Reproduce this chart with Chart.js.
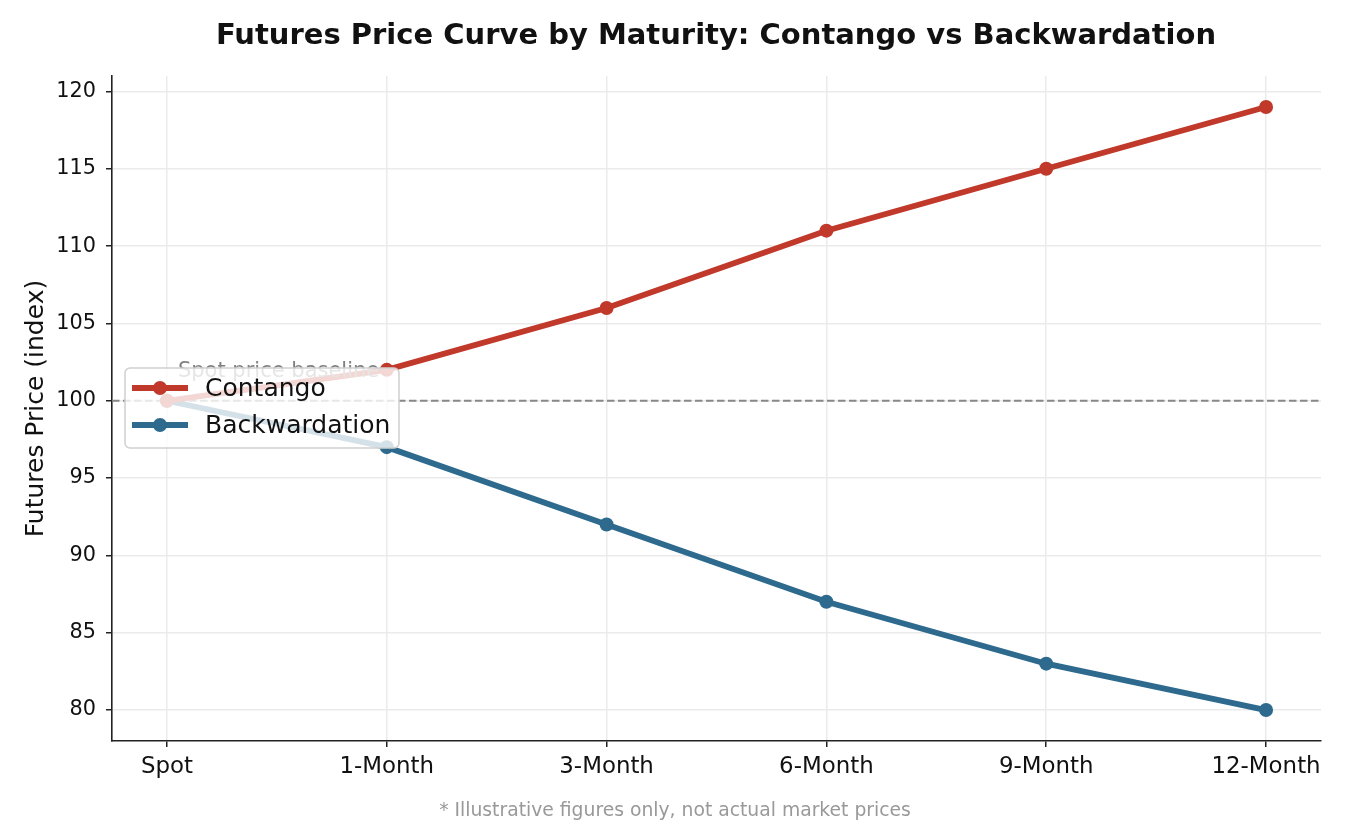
<!DOCTYPE html>
<html lang="en">
  <head>
    <meta charset="UTF-8" />
    <title>Futures Price Curve</title>
    <script src="https://cdn.jsdelivr.net/npm/chart.js"></script>
    <style>
      html, body { margin: 0; padding: 0; background: #fff; }
      #wrap { width: 1350px; height: 825px; }
    </style>
  </head>
  <body>
    <div id="wrap"><canvas id="curveChart" width="1350" height="825"></canvas></div>
    <script>
      // data
      const maturities = ["Spot", "1-Month", "3-Month", "6-Month", "9-Month", "12-Month"];
      const contango = [100, 102, 106, 111, 115, 119];
      const backwardation = [100, 97, 92, 87, 83, 80];
      const yTicks = [80, 85, 90, 95, 100, 105, 110, 115, 120];
      const baseline = 100;

      const RED = "#c0392b";
      const BLUE = "#2e6a8e";
      const FONT = "'DejaVu Sans', sans-serif";

      const toPoints = (arr) => arr.map((v, i) => ({ x: i, y: v }));

      // title, baseline, note and the in-plot legend
      const extras = {
        id: "extras",
        beforeDatasetsDraw(chart) {
          const { ctx, chartArea, scales } = chart;
          const y = scales.y.getPixelForValue(baseline);
          ctx.save();
          ctx.strokeStyle = "#888";
          ctx.lineWidth = 2;
          ctx.setLineDash([7.5, 3.5]);
          ctx.beginPath();
          ctx.moveTo(chartArea.left, y);
          ctx.lineTo(chartArea.right, y);
          ctx.stroke();
          ctx.restore();
        },
        afterDatasetsDraw(chart) {
          const { ctx, scales } = chart;
          ctx.save();
          ctx.fillStyle = "#808080";
          ctx.font = "21px " + FONT;
          ctx.textAlign = "left";
          ctx.textBaseline = "alphabetic";
          ctx.fillText("Spot price baseline", scales.x.getPixelForValue(0) + 11, scales.y.getPixelForValue(baseline) - 24);
          ctx.restore();
        },
        afterDraw(chart) {
          const { ctx } = chart;
          ctx.save();
          // title
          ctx.fillStyle = "#111";
          ctx.font = "bold 29px " + FONT;
          ctx.textAlign = "center";
          ctx.textBaseline = "middle";
          ctx.fillText("Futures Price Curve by Maturity: Contango vs Backwardation", 716, 36);
          // note
          ctx.fillStyle = "#999";
          ctx.font = "18.75px " + FONT;
          ctx.fillText("* Illustrative figures only, not actual market prices", 675, 811);

          // legend box
          const bx = 125, by = 368, bw = 274, bh = 80, r = 5;
          ctx.beginPath();
          ctx.moveTo(bx + r, by);
          ctx.arcTo(bx + bw, by, bx + bw, by + bh, r);
          ctx.arcTo(bx + bw, by + bh, bx, by + bh, r);
          ctx.arcTo(bx, by + bh, bx, by, r);
          ctx.arcTo(bx, by, bx + bw, by, r);
          ctx.closePath();
          ctx.fillStyle = "rgba(255,255,255,0.8)";
          ctx.fill();
          ctx.strokeStyle = "#d0d0d0";
          ctx.lineWidth = 1.5;
          ctx.stroke();

          const items = chart.data.datasets;
          items.forEach((ds, i) => {
            const ly = 388 + i * 37;
            ctx.strokeStyle = ds.borderColor;
            ctx.lineWidth = ds.borderWidth;
            ctx.beginPath();
            ctx.moveTo(132, ly);
            ctx.lineTo(188, ly);
            ctx.stroke();
            ctx.fillStyle = ds.borderColor;
            ctx.beginPath();
            ctx.arc(160, ly, 7, 0, Math.PI * 2);
            ctx.fill();
            ctx.fillStyle = "#111";
            ctx.font = "25px " + FONT;
            ctx.textAlign = "left";
            ctx.textBaseline = "middle";
            ctx.fillText(ds.label, 205, ly + 1);
          });
          ctx.restore();
        },
      };

      new Chart(document.getElementById("curveChart"), {
        type: "line",
        data: {
          datasets: [
            {
              label: "Contango",
              data: toPoints(contango),
              borderColor: RED,
              backgroundColor: RED,
              borderWidth: 5.8,
              pointRadius: 7,
              pointHoverRadius: 7,
              pointBorderWidth: 0,
            },
            {
              label: "Backwardation",
              data: toPoints(backwardation),
              borderColor: BLUE,
              backgroundColor: BLUE,
              borderWidth: 5.8,
              pointRadius: 7,
              pointHoverRadius: 7,
              pointBorderWidth: 0,
            },
          ],
        },
        options: {
          responsive: false,
          animation: false,
          devicePixelRatio: 1,
          layout: { padding: { top: 76, right: 29, left: 0, bottom: 0 } },
          plugins: {
            legend: { display: false },
            title: { display: false },
            tooltip: { enabled: false },
          },
          scales: {
            x: {
              type: "linear",
              min: -0.25,
              max: 5.25,
              afterBuildTicks: (scale) => {
                scale.ticks = maturities.map((_, i) => ({ value: i }));
              },
              afterFit: (scale) => { scale.height = 84; },
              ticks: {
                callback: (v) => maturities[v],
                color: "#111",
                font: { family: FONT, size: 22.9 },
                padding: 6,
                maxRotation: 0,
              },
              grid: { color: "#ebebeb", lineWidth: 1.5, tickLength: 6, tickColor: "#222" },
              border: { display: true, color: "#222", width: 1.6 },
            },
            y: {
              min: 78,
              max: 121,
              afterBuildTicks: (scale) => {
                scale.ticks = yTicks.map((v) => ({ value: v }));
              },
              afterFit: (scale) => { scale.width = 112; },
              ticks: {
                color: "#111",
                font: { family: FONT, size: 20.8 },
                padding: 10,
              },
              title: {
                display: true,
                text: "Futures Price (index)",
                color: "#111",
                font: { family: FONT, size: 25 },
                padding: { top: 21, bottom: 0 },
              },
              grid: { color: "#ebebeb", lineWidth: 1.5, tickLength: 6, tickColor: "#222" },
              border: { display: true, color: "#222", width: 1.6 },
            },
          },
        },
        plugins: [extras],
      });
    </script>
  </body>
</html>
